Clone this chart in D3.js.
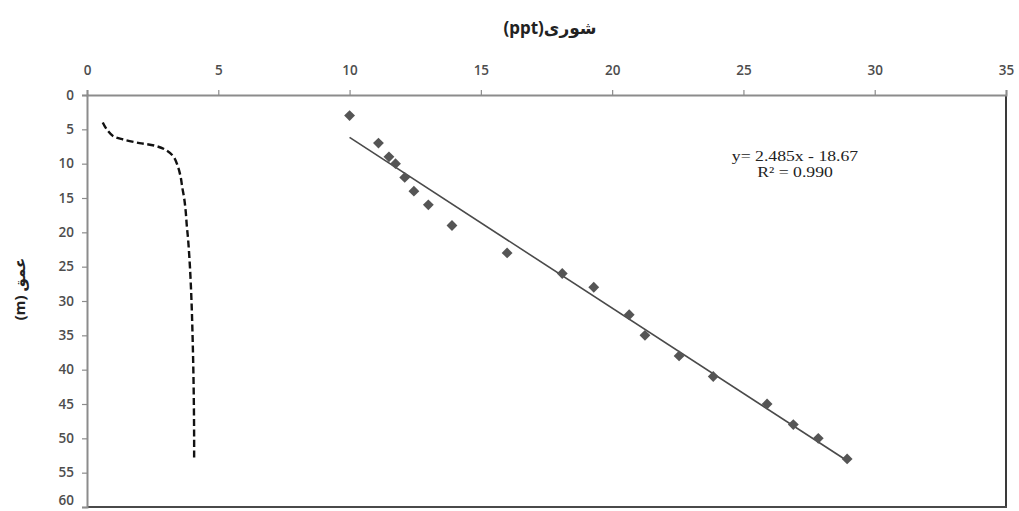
<!DOCTYPE html>
<html><head><meta charset="utf-8">
<script src="https://cdn.jsdelivr.net/npm/d3@7"></script>
<style>body{margin:0;background:#fff}svg{display:block}</style>
</head><body><svg id="c" width="1019" height="511"></svg>
<script>
// ---- data ----
const xTicks = [0, 5, 10, 15, 20, 25, 30, 35];
const yTicks = [0, 5, 10, 15, 20, 25, 30, 35, 40, 45, 50, 55, 60];
// measured salinity points (x) and depths (y)
const pointSalinity = [10.0, 11.1, 11.5, 11.75, 12.1, 12.45, 13.0, 13.9, 16.0, 18.1, 19.3, 20.65, 21.25, 22.55, 23.85, 25.9, 26.9, 27.85, 28.95];
const pointDepth    = [3, 7, 9, 10, 12, 14, 16, 19, 23, 26, 28, 32, 35, 38, 41, 45, 48, 50, 53];
// dashed profile curve
const profileX     = [0.6, 0.75, 1.0, 1.4, 2.0, 2.6, 3.0, 3.3, 3.47, 3.57, 3.63, 3.7, 3.76, 3.8, 3.85, 3.92, 3.98, 4.02, 4.05, 4.07, 4.08, 4.08];
const profileDepth = [4, 5, 6, 6.5, 7, 7.4, 8, 9, 10.5, 12, 13.5, 15, 17, 19, 21, 25, 30, 35, 40, 45, 50, 53];
// trendline
const trendSlope = 2.485, trendIntercept = -18.67;
const eqLines = ["y= 2.485x - 18.67", "R² = 0.990"];
const xTitle = "(ppt)شوری";
const yTitle = "(m) عمق";

// ---- layout ----
const L = 87, R = 1006, T = 95, B = 507;
const svg = d3.select("#c");
const x = d3.scaleLinear().domain([0, 35]).range([L, R]);
const y = d3.scaleLinear().domain([0, 60]).range([T, B]);

// frame (right/bottom darker)
svg.append("line").attr("x1", R).attr("x2", R).attr("y1", T).attr("y2", B + 1).attr("stroke", "#3a3a3a").attr("stroke-width", 2);
svg.append("line").attr("x1", L).attr("x2", R + 1).attr("y1", B).attr("y2", B).attr("stroke", "#4a4a4a").attr("stroke-width", 2);

const fontAxis = "'Open Sans', sans-serif";
const xAxis = d3.axisTop(x).tickValues(xTicks).tickSize(5).tickPadding(15).tickFormat(d3.format("d"));
const gx = svg.append("g").attr("transform", `translate(0,${T})`).call(xAxis);
const yAxis = d3.axisLeft(y).tickValues(yTicks).tickSize(5).tickPadding(8).tickFormat(d3.format("d"));
const gy = svg.append("g").attr("transform", `translate(${L},0)`).call(yAxis);
[gx, gy].forEach(g => {
  g.select(".domain").attr("stroke", "#8c8c8c").attr("stroke-width", 2);
  g.selectAll(".tick line").attr("stroke", "#8c8c8c").attr("stroke-width", 1.2);
  g.selectAll(".tick text").attr("fill", "#4d4d4d").style("font-family", fontAxis).style("font-size", "13.5px").style("font-weight", "600");
});
// keep the last y label inside the picture
gy.selectAll(".tick text").filter(d => d === 60).attr("dy", "-0.2em");

// trendline
const ext = d3.extent(pointSalinity);
svg.append("line")
  .attr("x1", x(ext[0])).attr("y1", y(trendSlope * ext[0] + trendIntercept))
  .attr("x2", x(ext[1])).attr("y2", y(trendSlope * ext[1] + trendIntercept))
  .attr("stroke", "#4a4a4a").attr("stroke-width", 1.6);

// points
svg.append("g").selectAll("path").data(pointSalinity.map((s, i) => [s, pointDepth[i]]))
  .join("path")
  .attr("d", d3.symbol().type(d3.symbolDiamond2).size(75))
  .attr("transform", d => `translate(${x(d[0])},${y(d[1])})`)
  .attr("fill", "#555555");

// dashed profile
const line = d3.line().x(d => x(d[0])).y(d => y(d[1])).curve(d3.curveCatmullRom.alpha(0.5));
svg.append("path").datum(profileX.map((v, i) => [v, profileDepth[i]]))
  .attr("d", line).attr("fill", "none").attr("stroke", "#111").attr("stroke-width", 2.4)
  .attr("stroke-dasharray", "7,3.5");

// equation
const eq = svg.append("text").attr("transform", "translate(795,161) scale(1.22,1)").attr("text-anchor", "middle")
  .style("font-family", "'Liberation Serif', 'Times New Roman', serif").style("font-size", "14.5px").attr("fill", "#222");
eq.selectAll("tspan").data(eqLines).join("tspan").attr("x", 0).attr("dy", (d, i) => i ? 16 : 0).text(d => d);

// titles
svg.append("text").attr("x", 550).attr("y", 34).attr("text-anchor", "middle").attr("direction", "ltr")
  .style("font-family", "'Noto Sans', 'DejaVu Sans', sans-serif").style("font-size", "17px").style("font-weight", "bold").attr("fill", "#222").text(xTitle);
svg.append("text").attr("transform", "translate(25,289) rotate(-90)").attr("text-anchor", "middle")
  .style("font-family", "'Noto Sans', 'DejaVu Sans', sans-serif").style("font-size", "15px").style("font-weight", "bold").attr("fill", "#222").text(yTitle);
</script></body></html>
